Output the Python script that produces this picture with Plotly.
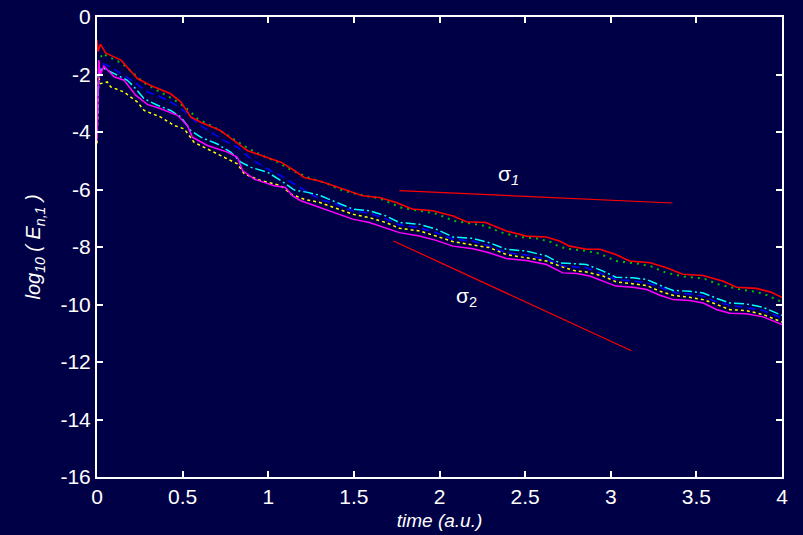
import plotly.graph_objects as go

# ---------------- data ----------------
red_t = [0.0, 0.006, 0.02, 0.05, 0.14, 0.236, 0.314, 0.43, 0.49, 0.548, 0.606, 0.72, 0.80, 0.88, 0.96,
         1.074, 1.152, 1.21, 1.31, 1.415, 1.55, 1.65, 1.747, 1.84, 1.96, 2.08, 2.156, 2.27, 2.39, 2.507,
         2.624, 2.70, 2.76, 2.858, 2.936, 3.03, 3.11, 3.23, 3.326, 3.42, 3.54, 3.657, 3.735, 3.85, 3.93, 4.0]
red_v = [-0.80, -1.20, -0.94, -1.25, -1.50, -2.14, -2.38, -2.67, -2.96, -3.48, -3.66, -3.95, -4.30, -4.65, -4.82,
         -5.05, -5.34, -5.58, -5.72, -5.93, -6.22, -6.28, -6.45, -6.68, -6.74, -6.92, -7.12, -7.15, -7.44, -7.62,
         -7.65, -7.79, -7.97, -8.08, -8.08, -8.26, -8.49, -8.55, -8.72, -8.95, -8.99, -9.19, -9.40, -9.44, -9.56, -9.75]

green_t = [0.0, 0.012, 0.03, 0.074, 0.148, 0.187, 0.275, 0.333, 0.392, 0.44, 0.49, 0.538, 0.587, 0.684, 0.78,
           0.889, 0.987, 1.04, 1.133, 1.24, 1.347, 1.434, 1.55, 1.65, 1.737, 1.785, 1.883, 1.98, 2.04, 2.078,
           2.175, 2.27, 2.33, 2.38, 2.468, 2.565, 2.643, 2.68, 2.74, 2.84, 2.936, 3.03, 3.15, 3.23, 3.277,
           3.326, 3.44, 3.54, 3.63, 3.76, 3.85, 3.93, 3.97, 4.0]
green_v = [-2.6, -1.6, -1.27, -1.41, -1.62, -1.83, -2.29, -2.49, -2.67, -2.84, -3.04, -3.25, -3.54, -3.83, -4.18,
           -4.59, -4.88, -5.00, -5.32, -5.60, -5.80, -6.04, -6.20, -6.31, -6.53, -6.65, -6.74, -6.84, -6.98, -7.09,
           -7.17, -7.27, -7.42, -7.53, -7.65, -7.70, -7.81, -7.93, -8.06, -8.12, -8.23, -8.49, -8.57, -8.66, -8.78,
           -8.90, -9.04, -9.09, -9.30, -9.48, -9.56, -9.71, -9.85, -9.90]

blue_t = [0.0, 0.015, 0.03, 0.06, 0.14, 0.216, 0.294, 0.372, 0.45, 0.528, 0.587, 0.665, 0.743, 0.82, 0.90,
          0.996, 1.074, 1.152, 1.23, 1.30, 1.396, 1.493, 1.59, 1.688, 1.766, 1.883, 1.98, 2.078, 2.195, 2.29,
          2.39, 2.507, 2.624, 2.72, 2.80, 2.858, 2.955, 3.03, 3.15, 3.23, 3.306, 3.384, 3.46, 3.54, 3.62,
          3.696, 3.79, 3.89, 4.0]
blue_v = [-3.4, -1.9, -1.62, -1.68, -1.97, -2.26, -2.61, -2.78, -3.02, -3.36, -3.71, -4.01, -4.30, -4.53, -4.94,
          -5.29, -5.52, -5.81, -6.10, -6.34, -6.51, -6.74, -6.82, -7.03, -7.23, -7.33, -7.50, -7.73, -7.79, -7.97,
          -8.20, -8.28, -8.43, -8.66, -8.70, -8.72, -8.95, -9.13, -9.19, -9.28, -9.44, -9.60, -9.63, -9.71, -9.91,
          -10.03, -10.10, -10.21, -10.47]

cyan_t = [0.0, 0.01, 0.03, 0.10, 0.177, 0.216, 0.275, 0.353, 0.43, 0.49, 0.548, 0.606, 0.70, 0.78, 0.84,
          0.90, 0.996, 1.074, 1.152, 1.23, 1.30, 1.376, 1.493, 1.59, 1.688, 1.766, 1.883, 1.98, 2.078, 2.195,
          2.29, 2.39, 2.507, 2.624, 2.70, 2.78, 2.858, 2.955, 3.03, 3.13, 3.21, 3.287, 3.364, 3.46, 3.54,
          3.62, 3.696, 3.79, 3.89, 4.0]
cyan_v = [-4.0, -2.0, -1.76, -1.97, -2.20, -2.43, -2.84, -3.07, -3.25, -3.48, -3.95, -4.18, -4.41, -4.70, -5.05,
          -5.23, -5.40, -5.69, -6.02, -6.10, -6.20, -6.39, -6.68, -6.74, -6.92, -7.15, -7.21, -7.38, -7.65, -7.70,
          -7.85, -8.08, -8.14, -8.31, -8.55, -8.58, -8.61, -8.84, -9.05, -9.07, -9.13, -9.33, -9.51, -9.54, -9.60,
          -9.79, -9.95, -9.98, -10.10, -10.38]

yellow_t = [0.0, 0.01, 0.02, 0.06, 0.08, 0.158, 0.236, 0.275, 0.372, 0.45, 0.509, 0.567, 0.665, 0.762, 0.82,
            0.86, 0.957, 1.074, 1.133, 1.21, 1.30, 1.396, 1.493, 1.59, 1.688, 1.766, 1.883, 1.98, 2.078, 2.195,
            2.29, 2.39, 2.507, 2.624, 2.72, 2.80, 2.858, 2.955, 3.03, 3.13, 3.21, 3.287, 3.364, 3.46, 3.54,
            3.62, 3.696, 3.79, 3.89, 4.0]
yellow_v = [-4.4, -2.1, -2.32, -2.26, -2.43, -2.61, -2.96, -3.25, -3.48, -3.77, -3.89, -4.36, -4.65, -4.94, -5.11,
            -5.46, -5.69, -5.87, -6.16, -6.34, -6.45, -6.65, -6.86, -6.98, -7.15, -7.35, -7.44, -7.62, -7.81, -7.93,
            -8.02, -8.26, -8.37, -8.49, -8.70, -8.84, -8.87, -9.01, -9.21, -9.27, -9.34, -9.54, -9.68, -9.75, -9.83,
            -10.00, -10.18, -10.21, -10.35, -10.61]

magenta_t = [0.0, 0.01, 0.02, 0.04, 0.10, 0.158, 0.226, 0.294, 0.372, 0.47, 0.528, 0.557, 0.645, 0.762, 0.82,
             0.85, 0.918, 1.035, 1.10, 1.142, 1.19, 1.30, 1.396, 1.493, 1.59, 1.688, 1.766, 1.883, 1.98, 2.078,
             2.195, 2.29, 2.39, 2.507, 2.624, 2.72, 2.80, 2.877, 2.955, 3.03, 3.13, 3.21, 3.287, 3.364, 3.46,
             3.54, 3.62, 3.696, 3.79, 3.89, 4.0]
magenta_v = [-4.3, -1.5, -2.0, -1.71, -2.08, -2.20, -2.72, -3.04, -3.19, -3.42, -3.77, -4.18, -4.47, -4.70, -4.88,
             -5.34, -5.64, -5.87, -5.93, -6.22, -6.39, -6.62, -6.80, -7.03, -7.15, -7.35, -7.50, -7.62, -7.77, -7.97,
             -8.06, -8.20, -8.40, -8.47, -8.61, -8.90, -8.92, -9.01, -9.19, -9.36, -9.40, -9.48, -9.68, -9.83, -9.86,
             -9.95, -10.18, -10.30, -10.32, -10.43, -10.70]

sigma1_t = [1.766, 3.36]
sigma1_v = [-6.04, -6.47]
sigma2_t = [1.731, 3.121]
sigma2_v = [-7.79, -11.61]

x_ticks = [0, 0.5, 1, 1.5, 2, 2.5, 3, 3.5, 4]
x_tick_labels = ["0", "0.5", "1", "1.5", "2", "2.5", "3", "3.5", "4"]
y_ticks = [0, -2, -4, -6, -8, -10, -12, -14, -16]
y_tick_labels = ["0", "-2", "-4", "-6", "-8", "-10", "-12", "-14", "-16"]

# ---------------- figure ----------------
BG = "#000046"
FONT = "Liberation Sans, Arial, sans-serif"

fig = go.Figure()

series = [
    (green_t, green_v, "#00c000", "2px,5px", 2),
    (blue_t, blue_v, "#0000ff", "8px,5px", 1.6),
    (yellow_t, yellow_v, "#ffff00", "3px,3px", 1.5),
    (cyan_t, cyan_v, "#00ffff", "10px,3px,2px,3px", 1.5),
    (magenta_t, magenta_v, "#ff00ff", "solid", 1.5),
    (red_t, red_v, "#ff0000", "solid", 1.6),
]
for t, v, col, dash, w in series:
    fig.add_trace(go.Scatter(x=t, y=v, mode="lines",
                             line=dict(color=col, width=w, dash=dash),
                             showlegend=False, hoverinfo="skip"))

fig.add_trace(go.Scatter(x=sigma1_t, y=sigma1_v, mode="lines",
                         line=dict(color="#ff0000", width=1.2), showlegend=False, hoverinfo="skip"))
fig.add_trace(go.Scatter(x=sigma2_t, y=sigma2_v, mode="lines",
                         line=dict(color="#ff0000", width=1.2), showlegend=False, hoverinfo="skip"))

fig.add_annotation(x=2.40, y=-5.50, xref="x", yref="y", text="σ<sub><i>1</i></sub>",
                   showarrow=False, font=dict(color="white", size=21, family=FONT))
fig.add_annotation(x=2.16, y=-9.75, xref="x", yref="y", text="σ<sub>2</sub>",
                   showarrow=False, font=dict(color="white", size=21, family=FONT))

axis_common = dict(showline=True, linecolor="white", linewidth=2, mirror="ticks",
                   ticks="inside", ticklen=6, tickcolor="white", tickwidth=1.5,
                   showgrid=False, zeroline=False, automargin=False,
                   tickfont=dict(color="white", size=21, family=FONT))

fig.update_xaxes(range=[0, 4], tickvals=x_ticks, ticktext=x_tick_labels,
                 title=dict(text="<i>time (a.u.)</i>", font=dict(color="white", size=19, family=FONT),
                            standoff=6),
                 **axis_common)
fig.update_yaxes(range=[-16, 0], tickvals=y_ticks, ticktext=y_tick_labels,
                 title=dict(text="<i>log<sub>10</sub> ( E<sub>n,1</sub> )</i>",
                            font=dict(color="white", size=20, family=FONT), standoff=14),
                 **axis_common)

fig.update_layout(width=803, height=535, paper_bgcolor=BG, plot_bgcolor=BG,
                  margin=dict(l=97, r=21, t=17, b=58), showlegend=False)

fig.write_html("out.html", config={"displayModeBar": False},
               post_script="document.body.style.margin='0';document.body.style.background='%s';" % BG)
